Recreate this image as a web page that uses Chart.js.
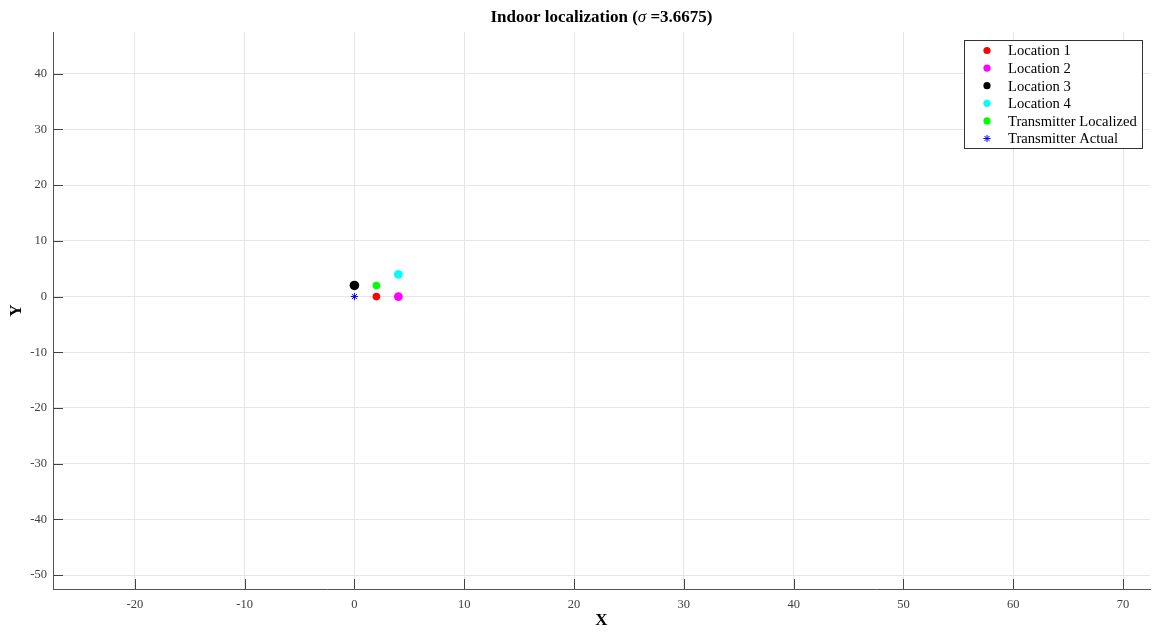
<!DOCTYPE html>
<html>
<head>
<meta charset="utf-8">
<script src="https://cdn.jsdelivr.net/npm/chart.js@4/dist/chart.umd.min.js"></script>
<style>
  html, body { margin: 0; padding: 0; background: #fff; }
  canvas { display: block; }
</style>
</head>
<body>
<canvas id="c" width="1155" height="634"></canvas>
<script>
// Receiver locations and transmitter positions (metres)
const seriesNames = ['Location 1', 'Location 2', 'Location 3', 'Location 4', 'Transmitter Localized', 'Transmitter Actual'];
const seriesX = [2, 4, 0, 4, 2, 0];
const seriesY = [0, 0, 2, 4, 2, 0];
const seriesColors = ['#ff0000', '#ff00ff', '#000000', '#00ffff', '#00ff00', '#0000ff'];
const seriesRadius = [3.8, 4.4, 4.8, 4.4, 3.8, 3.6];
const seriesStyle = ['circle', 'circle', 'circle', 'circle', 'circle', 'star'];

const xTickValues = [-20, -10, 0, 10, 20, 30, 40, 50, 60, 70];
const yTickValues = [-50, -40, -30, -20, -10, 0, 10, 20, 30, 40];
const xRange = [-27.45, 72.45];
const yRange = [-52.5, 47.5];

const sigma = '3.6675';
const FONT = "'Liberation Serif', 'Times New Roman', serif";

const datasets = seriesNames.map((name, i) => ({
  label: name,
  data: [{ x: seriesX[i], y: seriesY[i] }],
  backgroundColor: seriesColors[i],
  borderColor: seriesColors[i],
  borderWidth: seriesStyle[i] === 'star' ? 1 : 0,
  pointRadius: seriesRadius[i],
  pointStyle: seriesStyle[i],
  showLine: false
}));

// Title, axis labels, inward ticks and legend box
const decorations = {
  id: 'decorations',
  afterDraw(chart) {
    const ctx = chart.ctx;
    const area = chart.chartArea;
    const xs = chart.scales.x, ys = chart.scales.y;
    ctx.save();

    // inward tick marks
    ctx.strokeStyle = '#444';
    ctx.lineWidth = 1;
    ctx.beginPath();
    xTickValues.forEach(v => {
      const px = Math.round(xs.getPixelForValue(v)) + 0.5;
      ctx.moveTo(px, area.bottom);
      ctx.lineTo(px, area.bottom - 10);
    });
    yTickValues.forEach(v => {
      const py = Math.round(ys.getPixelForValue(v)) + 0.5;
      ctx.moveTo(area.left, py);
      ctx.lineTo(area.left + 10, py);
    });
    ctx.stroke();

    // title with italic sigma
    const cx = (area.left + area.right) / 2;
    const parts = [
      { t: 'Indoor localization (', f: 'bold 17px ' + FONT },
      { t: '\u03C3', f: 'italic 17px ' + FONT },
      { t: ' =' + sigma + ')', f: 'bold 17px ' + FONT }
    ];
    let total = 0;
    parts.forEach(p => { ctx.font = p.f; p.w = ctx.measureText(p.t).width; total += p.w; });
    let tx = cx - total / 2;
    ctx.fillStyle = '#000';
    ctx.textBaseline = 'middle';
    ctx.textAlign = 'left';
    parts.forEach(p => { ctx.font = p.f; ctx.fillText(p.t, tx, 18); tx += p.w; });

    // axis labels
    ctx.font = 'bold 17px ' + FONT;
    ctx.textAlign = 'center';
    ctx.fillText('X', cx, 621);
    ctx.save();
    ctx.translate(17, (area.top + area.bottom) / 2);
    ctx.rotate(-Math.PI / 2);
    ctx.fillText('Y', 0, 0);
    ctx.restore();

    // legend
    const lx = 964.5, ly = 40.5, lw = 178, lh = 108;
    ctx.fillStyle = '#fff';
    ctx.fillRect(lx, ly, lw, lh);
    ctx.strokeStyle = '#333';
    ctx.lineWidth = 1;
    ctx.strokeRect(lx, ly, lw, lh);
    ctx.font = '14.6px ' + FONT;
    ctx.textAlign = 'left';
    ctx.textBaseline = 'middle';
    chart.data.datasets.forEach((ds, i) => {
      const y = 50.5 + i * 17.6;
      ctx.fillStyle = ds.backgroundColor;
      ctx.strokeStyle = ds.borderColor;
      if (ds.pointStyle === 'star') {
        ctx.lineWidth = 1;
        Chart.helpers.drawPoint(ctx, { pointStyle: 'star', radius: 3.6, borderWidth: 1 }, 987, y);
      } else {
        ctx.beginPath();
        ctx.arc(987, y, 3.6, 0, Math.PI * 2);
        ctx.fill();
      }
      ctx.fillStyle = '#000';
      ctx.fillText(ds.label, 1008, y + 1);
    });
    ctx.restore();
  }
};

new Chart(document.getElementById('c'), {
  type: 'scatter',
  data: { datasets },
  options: {
    responsive: false,
    animation: false,
    layout: { padding: { top: 32, right: 1, left: 0, bottom: 0 } },
    plugins: { legend: { display: false }, tooltip: { enabled: false }, title: { display: false } },
    scales: {
      x: {
        type: 'linear',
        min: xRange[0],
        max: xRange[1],
        afterBuildTicks(scale) { scale.ticks = xTickValues.map(v => ({ value: v })); },
        afterFit(scale) { scale.height = 45; },
        grid: { color: '#e6e6e6', drawTicks: false },
        border: { display: true, color: '#555', width: 1 },
        ticks: { padding: 8, color: '#404040', font: { family: FONT, size: 12.5 } }
      },
      y: {
        type: 'linear',
        min: yRange[0],
        max: yRange[1],
        afterBuildTicks(scale) { scale.ticks = yTickValues.map(v => ({ value: v })); },
        afterFit(scale) { scale.width = 53; },
        grid: { color: '#e6e6e6', drawTicks: false },
        border: { display: true, color: '#555', width: 1 },
        ticks: { padding: 6, color: '#404040', font: { family: FONT, size: 12.5 } }
      }
    }
  },
  plugins: [decorations]
});
</script>
</body>
</html>
